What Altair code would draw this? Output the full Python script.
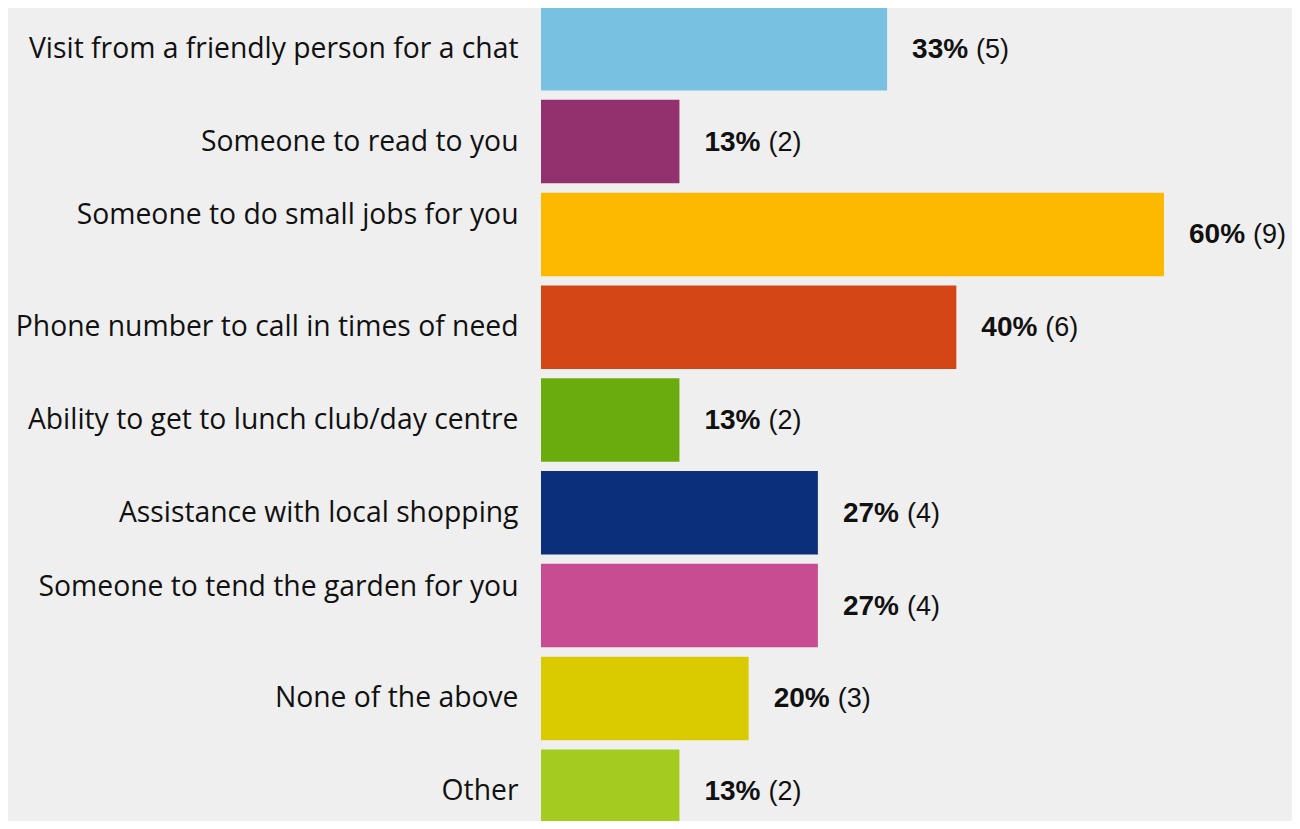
import altair as alt
import pandas as pd

categories = [
    "Visit from a friendly person for a chat",
    "Someone to read to you",
    "Someone to do small jobs for you",
    "Phone number to call in times of need",
    "Ability to get to lunch club/day centre",
    "Assistance with local shopping",
    "Someone to tend the garden for you",
    "None of the above",
    "Other",
]
counts = [5, 2, 9, 6, 2, 4, 4, 3, 2]
total = 15
percents = [c / total * 100 for c in counts]
pct_labels = ["33%", "13%", "60%", "40%", "13%", "27%", "27%", "20%", "13%"]
count_labels = ["(5)", "(2)", "(9)", "(6)", "(2)", "(4)", "(4)", "(3)", "(2)"]
colors = ["#78C1E0", "#93306E", "#FDB800", "#D44616", "#6AAB0E",
          "#0C2F7C", "#C84C91", "#DACB00", "#A4CB20"]

df = pd.DataFrame({
    "cat": categories,
    "pct": percents,
    "pl": pct_labels,
    "cl": count_labels,
})

raised = ["Someone to do small jobs for you", "Someone to tend the garden for you"]
test = " || ".join([f"datum.value == '{r}'" for r in raised])

y_enc = alt.Y(
    "cat:N",
    sort=categories,
    scale=alt.Scale(range=[-5.6, 829.6], paddingInner=0.1, paddingOuter=0.05),
    axis=alt.Axis(
        title=None, domain=False, ticks=False, grid=False,
        labelFont="Open Sans", labelFontSize=28.3, labelColor="#111111",
        labelPadding=23, labelLimit=600,
        labelOffset={"condition": {"test": test, "value": -18}, "value": 1},
    ),
)
x_scale = alt.Scale(domain=[0, 60 * 751 / 623], nice=False, zero=True)

base = alt.Chart(df)

bars = base.mark_bar().encode(
    y=y_enc,
    x=alt.X("pct:Q", scale=x_scale, axis=None),
    color=alt.Color("cat:N", scale=alt.Scale(domain=categories, range=colors), legend=None),
)

pct_text = base.mark_text(
    align="left", baseline="middle", dx=25, dy=1,
    font="Liberation Sans", fontSize=28, fontWeight="bold", color="#111111",
).encode(y=alt.Y("cat:N", sort=categories), x=alt.X("pct:Q", scale=x_scale), text="pl:N")

cnt_text = base.mark_text(
    align="left", baseline="middle", dx=89, dy=1,
    font="Liberation Sans", fontSize=27, color="#111111",
).encode(y=alt.Y("cat:N", sort=categories), x=alt.X("pct:Q", scale=x_scale), text="cl:N")

chart = alt.layer(bars, pct_text, cnt_text).properties(
    width=751, height=813,
    autosize=alt.AutoSizeParams(type="none"),
    padding={"left": 533, "top": 0, "right": 0, "bottom": 0},
    background="#EFEFEF",
).configure_view(stroke=None)

chart.save("out.html", embed_options={"renderer": "svg", "actions": False})
